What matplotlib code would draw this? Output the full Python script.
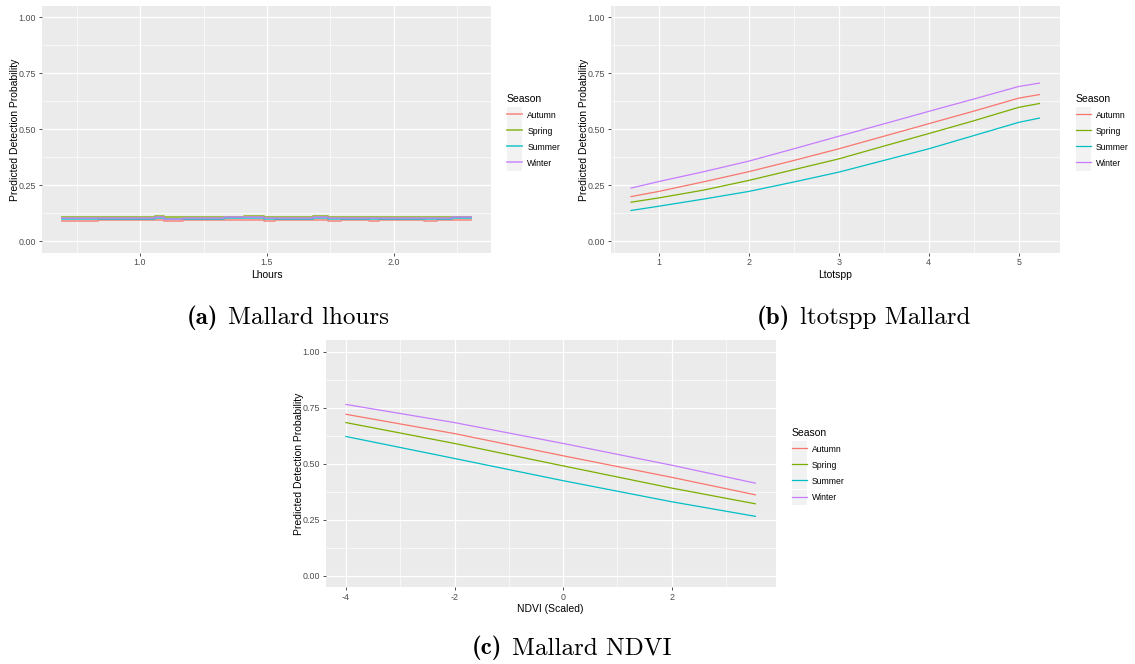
import numpy as np
import matplotlib
matplotlib.use('Agg')
import matplotlib.pyplot as plt
from matplotlib.patches import Rectangle
from matplotlib.legend_handler import HandlerLine2D
from matplotlib.ticker import FixedLocator

plt.rcParams['font.family'] = ['Liberation Sans', 'DejaVu Sans']

seasons = ['Autumn', 'Spring', 'Summer', 'Winter']
colors = ['#F8766D', '#7CAE00', '#00BFC4', '#C77CFF']

# (a) Mallard lhours (stepped predictions)
lhours = [0.693, 0.795, 0.833, 0.943, 1.057, 1.095, 1.17, 1.25, 1.33, 1.41, 1.49, 1.53,
          1.61, 1.68, 1.74, 1.79, 1.84, 1.90, 1.94, 1.99, 2.07, 2.12, 2.17, 2.23, 2.303]
lh_autumn = [0.093, 0.093, 0.095, 0.095, 0.097, 0.091, 0.094, 0.095, 0.096, 0.097, 0.092, 0.094,
             0.095, 0.097, 0.092, 0.094, 0.095, 0.092, 0.094, 0.095, 0.095, 0.093, 0.095, 0.096, 0.096]
lh_spring = [0.108, 0.108, 0.111, 0.111, 0.112, 0.107, 0.109, 0.111, 0.111, 0.112, 0.108, 0.110,
             0.111, 0.112, 0.108, 0.110, 0.111, 0.108, 0.110, 0.111, 0.110, 0.109, 0.111, 0.111, 0.111]
lh_summer = [0.100, 0.100, 0.102, 0.102, 0.103, 0.098, 0.101, 0.102, 0.103, 0.104, 0.099, 0.101,
             0.102, 0.103, 0.099, 0.101, 0.102, 0.099, 0.101, 0.102, 0.102, 0.100, 0.102, 0.103, 0.103]
lh_winter = [0.104, 0.104, 0.106, 0.106, 0.108, 0.102, 0.105, 0.106, 0.107, 0.108, 0.103, 0.105,
             0.106, 0.107, 0.103, 0.105, 0.106, 0.103, 0.105, 0.106, 0.106, 0.104, 0.106, 0.107, 0.107]

# (b) ltotspp Mallard
ltotspp = [0.693, 1.0, 1.5, 2.0, 2.5, 3.0, 3.5, 4.0, 4.5, 5.0, 5.23]
lt_autumn = [0.200, 0.223, 0.266, 0.311, 0.361, 0.413, 0.469, 0.525, 0.581, 0.639, 0.655]
lt_spring = [0.175, 0.194, 0.229, 0.272, 0.320, 0.368, 0.425, 0.481, 0.538, 0.598, 0.615]
lt_summer = [0.138, 0.157, 0.189, 0.223, 0.265, 0.309, 0.361, 0.413, 0.472, 0.531, 0.550]
lt_winter = [0.238, 0.267, 0.311, 0.358, 0.413, 0.469, 0.524, 0.580, 0.635, 0.691, 0.706]

# (c) Mallard NDVI
ndvi = [-4.0, -2.0, 0.0, 2.0, 3.54]
nd_autumn = [0.720, 0.634, 0.535, 0.439, 0.361]
nd_spring = [0.683, 0.590, 0.490, 0.391, 0.321]
nd_summer = [0.621, 0.523, 0.424, 0.330, 0.265]
nd_winter = [0.764, 0.683, 0.590, 0.493, 0.413]


class KeyHandler(HandlerLine2D):
    # ggplot style grey key box behind each legend line
    def create_artists(self, legend, orig_handle, xdescent, ydescent, width, height, fontsize, trans):
        gap = legend.labelspacing * fontsize
        bg = Rectangle((-xdescent, -ydescent - gap / 2), width, height + gap,
                       facecolor='#F2F2F2', edgecolor='none', transform=trans)
        arts = super().create_artists(legend, orig_handle, xdescent, ydescent, width, height, fontsize, trans)
        return [bg] + list(arts)


def style_axes(ax, xticks, xlabels, xminor, xlim, xlabel):
    ax.set_facecolor('#EBEBEB')
    for s in ax.spines.values():
        s.set_visible(False)
    ax.set_xlim(xlim)
    ax.set_ylim(-0.05, 1.05)
    ax.set_xticks(xticks)
    ax.set_xticklabels(xlabels)
    ax.xaxis.set_minor_locator(FixedLocator(xminor))
    ax.set_yticks([0, 0.25, 0.5, 0.75, 1.0])
    ax.set_yticklabels(['0.00', '0.25', '0.50', '0.75', '1.00'])
    ax.yaxis.set_minor_locator(FixedLocator([0.125, 0.375, 0.625, 0.875]))
    ax.grid(which='major', color='white', lw=0.9)
    ax.grid(which='minor', color='white', lw=0.45)
    ax.set_axisbelow(True)
    ax.tick_params(which='major', length=2.0, width=0.6, color='#333333',
                   labelsize=6.4, labelcolor='#4D4D4D', pad=2.0)
    ax.tick_params(which='minor', length=0)
    ax.set_xlabel(xlabel, fontsize=7.5)
    ax.set_ylabel('Predicted Detection Probability', fontsize=7.5)
    ax.yaxis.set_label_coords(-21.5 / 450, 0.5)
    ax.xaxis.set_label_coords(0.5, -17.5 / 246.7)
    ax.legend(title='Season', loc='upper left', bbox_to_anchor=(1.035, 0.645),
              frameon=False, fontsize=6.2, title_fontsize=7.5, alignment='left',
              borderpad=0, borderaxespad=0, labelspacing=0.76, handlelength=1.77,
              handleheight=1.3, handletextpad=0.6,
              handler_map={plt.Line2D: KeyHandler()})


W, H = 1135, 664
fig = plt.figure(figsize=(W / 100, H / 100), dpi=100)
ax_a = fig.add_axes([0.0368, 0.6195, 0.396, 0.3715])
ax_b = fig.add_axes([0.538, 0.6195, 0.3958, 0.3715])
ax_c = fig.add_axes([0.2868, 0.116, 0.3967, 0.3715])

for vals, c, lab in zip([lh_autumn, lh_spring, lh_summer, lh_winter], colors, seasons):
    ax_a.step(lhours, vals, where='post', color=c, lw=1.3, alpha=0.75, label=lab)
for vals, c, lab in zip([lt_autumn, lt_spring, lt_summer, lt_winter], colors, seasons):
    ax_b.plot(ltotspp, vals, color=c, lw=0.9, label=lab)
for vals, c, lab in zip([nd_autumn, nd_spring, nd_summer, nd_winter], colors, seasons):
    ax_c.plot(ndvi, vals, color=c, lw=0.9, label=lab)

style_axes(ax_a, [1.0, 1.5, 2.0], ['1.0', '1.5', '2.0'], [0.75, 1.25, 1.75, 2.25],
           (0.613, 2.383), 'Lhours')
style_axes(ax_b, [1, 2, 3, 4, 5], ['1', '2', '3', '4', '5'], [0.5, 1.5, 2.5, 3.5, 4.5],
           (0.466, 5.457), 'Ltotspp')
style_axes(ax_c, [-4, -2, 0, 2], ['-4', '-2', '0', '2'], [-3, -1, 1, 3],
           (-4.377, 3.917), 'NDVI (Scaled)')

# captions: bold tag + roman text, centred as one line
renderer = fig.canvas.get_renderer()


def caption(xc, ybase, tag, rest, size=18, gap=10):
    t1 = fig.text(0, 0, tag, fontfamily='cmb10', fontsize=size, ha='left', va='baseline')
    t2 = fig.text(0, 0, rest, fontfamily='cmr10', fontsize=size, ha='left', va='baseline')
    w1 = t1.get_window_extent(renderer).width
    w2 = t2.get_window_extent(renderer).width
    x0 = xc - (w1 + gap + w2) / 2
    t1.set_position((x0 / W, 1 - ybase / H))
    t2.set_position(((x0 + w1 + gap) / W, 1 - ybase / H))


caption(287.5, 324.3, '(a)', 'Mallard lhours')
caption(864, 324.3, '(b)', 'ltotspp Mallard')
caption(571.7, 654.3, '(c)', 'Mallard NDVI')

fig.savefig('out.png', dpi=100)
